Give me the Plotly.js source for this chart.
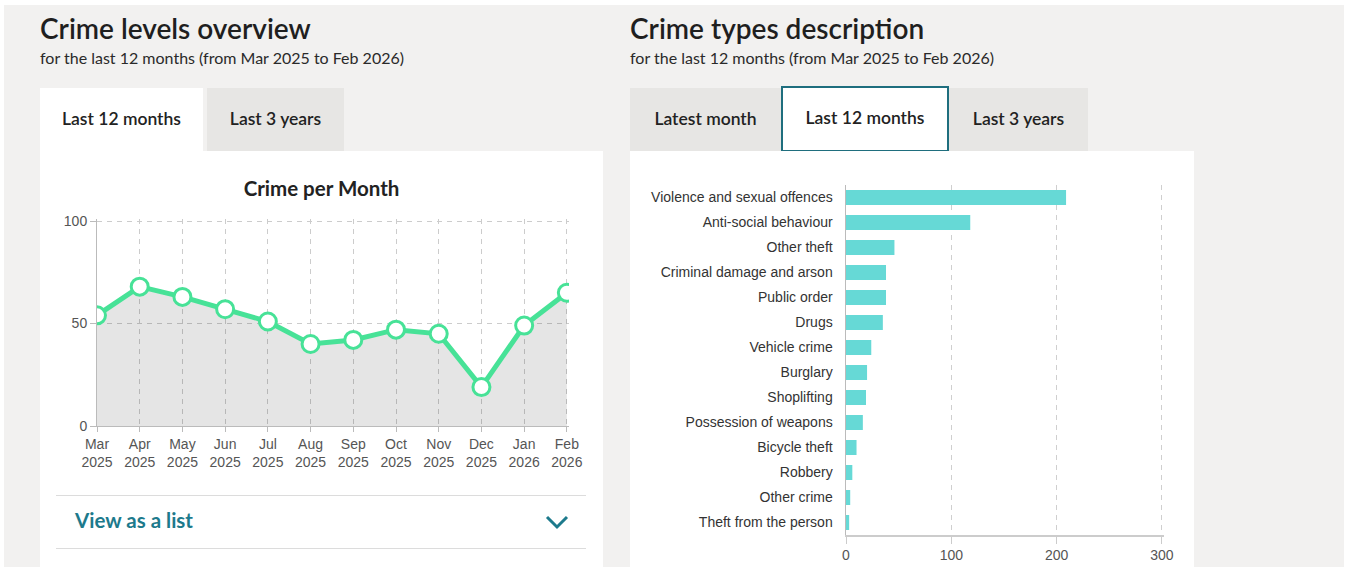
<!DOCTYPE html>
<html>
<head>
<meta charset="utf-8">
<script src="https://cdn.plot.ly/plotly-3.0.1.min.js"></script>
<style>
  html, body { margin:0; padding:0; width:1349px; height:567px; overflow:hidden; background:#ffffff; font-family: Lato, "Open Sans", sans-serif; }
  #page { position:absolute; left:4px; top:5px; width:1340px; height:562px; background:#f2f1f0; }
  .abs { position:absolute; }
  h1 { margin:0; font-weight:600; font-size:28px; color:#1f1f1f; white-space:nowrap; }
  .sub { font-size:16px; color:#2a2a2a; white-space:nowrap; }
  .tab { position:absolute; display:flex; align-items:center; justify-content:center; font-size:17.5px; font-weight:600; color:#222; box-sizing:border-box; padding-bottom:3px; }
  .tab.off { background:#e7e6e4; }
  .tab.on { background:#ffffff; }
  .card { position:absolute; background:#ffffff; }
  .rule { position:absolute; height:1px; background:#dcdcdc; }
  .vlist { position:absolute; font-size:20.5px; font-weight:700; color:#1d7a8c; white-space:nowrap; }
</style>
</head>
<body>
<div id="page"></div>

<h1 class="abs" style="left:40px; top:11px;">Crime levels overview</h1>
<div class="abs sub" style="left:40px; top:48px;">for the last 12 months (from Mar 2025 to Feb 2026)</div>

<div class="tab on" style="left:40px; top:88px; width:163px; height:64px;">Last 12 months</div>
<div class="tab off" style="left:207px; top:88px; width:137px; height:63px;">Last 3 years</div>
<div class="card" style="left:40px; top:151px; width:563px; height:416px;"></div>

<h1 class="abs" style="left:630px; top:11px;">Crime types description</h1>
<div class="abs sub" style="left:630px; top:48px;">for the last 12 months (from Mar 2025 to Feb 2026)</div>

<div class="tab off" style="left:630px; top:88px; width:458px; height:63px;"></div>
<div class="tab off" style="left:630px; top:88px; width:151px; height:63px;">Latest month</div>
<div class="tab on" style="left:781px; top:86px; width:168px; height:66px; border:2px solid #1f6e7e;">Last 12 months</div>
<div class="tab off" style="left:949px; top:88px; width:139px; height:63px;">Last 3 years</div>
<div class="card" style="left:630px; top:151px; width:564px; height:416px;"></div>

<div id="lineChart" class="abs" style="left:40px; top:160px; width:563px; height:325px;"></div>
<div id="barChart" class="abs" style="left:630px; top:160px; width:564px; height:407px;"></div>

<div class="rule" style="left:56px; top:495px; width:530px;"></div>
<div class="vlist" style="left:75px; top:508px;">View as a list</div>
<svg class="abs" style="left:544px; top:513px;" width="26" height="18" viewBox="0 0 26 18">
  <polyline points="3,4 13,14 23,4" fill="none" stroke="#1d7a8c" stroke-width="3"/>
</svg>
<div class="rule" style="left:56px; top:548px; width:530px;"></div>

<script>
// ---- Data: crime per month ----
const months = ["Mar", "Apr", "May", "Jun", "Jul", "Aug", "Sep", "Oct", "Nov", "Dec", "Jan", "Feb"];
const monthYears = ["2025", "2025", "2025", "2025", "2025", "2025", "2025", "2025", "2025", "2025", "2026", "2026"];
const crimeCounts = [54, 68, 63, 57, 51, 40, 42, 47, 45, 19, 49, 65];

// ---- Data: crime types (last 12 months) ----
const crimeTypes = [
  "Violence and sexual offences", "Anti-social behaviour", "Other theft",
  "Criminal damage and arson", "Public order", "Drugs", "Vehicle crime",
  "Burglary", "Shoplifting", "Possession of weapons", "Bicycle theft",
  "Robbery", "Other crime", "Theft from the person"
];
const crimeTypeCounts = [209, 118, 46, 38, 38, 35, 24, 20, 19, 16, 10, 6, 4, 3];

const tickFont = { family: "Liberation Sans, Arial, sans-serif", size: 14, color: "#555" };
const monthIdx = months.map((m, i) => i);
const monthLabels = months.map((m, i) => m + "<br>" + monthYears[i]);

Plotly.newPlot("lineChart", [{
  x: monthIdx,
  y: crimeCounts,
  type: "scatter",
  mode: "lines+markers",
  fill: "tozeroy",
  fillcolor: "rgba(0,0,0,0.1)",
  line: { color: "#47e297", width: 5 },
  marker: { size: 17, color: "#ffffff", line: { color: "#47e297", width: 3 } },
  hoverinfo: "skip"
}], {
  width: 563, height: 325,
  margin: { l: 57, r: 34, t: 59, b: 59 },
  paper_bgcolor: "rgba(0,0,0,0)",
  plot_bgcolor: "rgba(0,0,0,0)",
  showlegend: false,
  title: { text: "Crime per Month", font: { family: "Lato, sans-serif", size: 20.5, color: "#222", weight: 700 },
           x: 0.5, xanchor: "center", y: 1 - 29/325, yanchor: "middle", yref: "container" },
  xaxis: {
    range: [0, 11.05], tickvals: monthIdx, ticktext: monthLabels,
    showgrid: true, gridcolor: "#cccccc", griddash: "5px,5px", gridwidth: 1,
    zeroline: false, showline: true, linecolor: "#bbbbbb", linewidth: 1,
    ticks: "outside", ticklen: 5, tickcolor: "#bbbbbb",
    tickfont: tickFont, fixedrange: true
  },
  yaxis: {
    range: [0, 101], tickvals: [0, 50, 100],
    showgrid: true, gridcolor: "#cccccc", griddash: "5px,5px", gridwidth: 1,
    zeroline: false, showline: true, linecolor: "#bbbbbb", linewidth: 1,
    ticks: "outside", ticklen: 6, tickcolor: "#bbbbbb",
    tickfont: tickFont, fixedrange: true
  }
}, { displayModeBar: false, staticPlot: true });

Plotly.newPlot("barChart", [{
  x: crimeTypeCounts,
  y: crimeTypes,
  type: "bar",
  orientation: "h",
  width: 0.6,
  marker: { color: "#66d9d6" },
  hoverinfo: "skip"
}], {
  width: 564, height: 407,
  margin: { l: 216, r: 30, t: 24.5, b: 31.5 },
  paper_bgcolor: "rgba(0,0,0,0)",
  plot_bgcolor: "rgba(0,0,0,0)",
  showlegend: false,
  xaxis: {
    range: [0, 302], tickvals: [0, 100, 200, 300],
    showgrid: true, gridcolor: "#cfcfcf", griddash: "5px,5px", gridwidth: 1,
    zeroline: false, showline: true, linecolor: "#cccccc", linewidth: 1.5,
    ticks: "outside", ticklen: 7, tickcolor: "#cccccc",
    tickfont: { family: "Liberation Sans, Arial, sans-serif", size: 14, color: "#555" }, fixedrange: true
  },
  yaxis: {
    type: "category", autorange: "reversed",
    showgrid: false, zeroline: false, showline: true, linecolor: "#bbbbbb", linewidth: 1.5,
    ticks: "outside", ticklen: 9, tickcolor: "rgba(0,0,0,0)",
    tickfont: { family: "Liberation Sans, Arial, sans-serif", size: 14, color: "#333" }, fixedrange: true
  }
}, { displayModeBar: false, staticPlot: true });
</script>
</body>
</html>
